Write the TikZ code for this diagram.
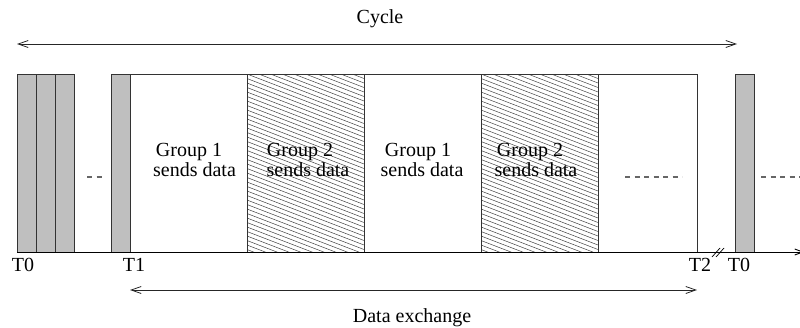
\documentclass[tikz,border=0pt]{standalone}
\usepackage{fontspec}
\setmainfont{Liberation Serif}
\usetikzlibrary{arrows.meta}
\begin{document}
\begin{tikzpicture}[x=1pt,y=-1pt,
  txt/.style={font=\fontsize{20}{20}\selectfont, inner sep=0pt, anchor=base},
  grp/.style={font=\fontsize{20}{14.5}\selectfont, inner sep=0pt, align=center, anchor=center},
  slot/.style={draw=black!80, line width=0.8pt},
  grayslot/.style={slot, fill=black!25},
  hatchline/.style={draw=black!75, line width=0.5pt},
  dots/.style={draw=black!60, line width=1.2pt, dash pattern=on 5pt off 4.5pt},
  axis/.style={draw=black, line width=0.9pt},
  span/.style={draw=black!85, line width=0.8pt, {Straight Barb[length=10pt,width=7pt]}-{Straight Barb[length=10pt,width=7pt]}}
]
\useasboundingbox (0,0) rectangle (800,327);
\clip (0,0) rectangle (800,327);

% gray slots
\draw[grayslot] (17,74) rectangle (36,252);
\draw[grayslot] (36,74) rectangle (55,252);
\draw[grayslot] (55,74) rectangle (74,252);
\draw[grayslot] (111,74) rectangle (130,252);
\draw[grayslot] (735,74) rectangle (754,252);

% white slots
\draw[slot] (130,74) rectangle (247,252);
\draw[slot] (364,74) rectangle (481,252);
\draw[slot] (598,74) rectangle (697,252);

% hatched slots
\foreach \xa/\xb in {247/364, 481/598}{
  \begin{scope}
    \clip (\xa,74) rectangle (\xb,252);
    \foreach \i in {-12,...,42}{
      \draw[hatchline] (\xa,74+\i*4.5) -- (\xb,74+\i*4.5+45);
    }
  \end{scope}
  \draw[slot] (\xa,74) rectangle (\xb,252);
}

% dashes
\coordinate (d1a) at (87,177); \coordinate (d1b) at (106,177);
\coordinate (d2a) at (625,177); \coordinate (d2b) at (682,177);
\coordinate (d3a) at (761,177); \coordinate (d3b) at (800,177);
\draw[dots] (d1a) -- (d1b);
\draw[dots] (d2a) -- (d2b);
\draw[dots] (d3a) -- (d3b);

% axis
\coordinate (ax0) at (17,252);
\coordinate (ax1) at (804,252);
\draw[axis, -{Straight Barb[length=8pt,width=6pt]}] (ax0) -- (ax1);
\coordinate (s1a) at (712,257); \coordinate (s1b) at (720,248);
\coordinate (s2a) at (716,257); \coordinate (s2b) at (724,248);
\draw[line width=0.7pt] (s1a) -- (s1b);
\draw[line width=0.7pt] (s2a) -- (s2b);

% spans
\coordinate (c0) at (17,44); \coordinate (c1) at (737,44);
\draw[span] (c0) -- (c1);
\coordinate (e0) at (130,290); \coordinate (e1) at (697,290);
\draw[span] (e0) -- (e1);

% labels
\node[txt] (cyc) at (380,23) {Cycle};
\node[txt] (dex) at (412,322) {Data exchange};
\node[txt] (t0a) at (23,271) {T0};
\node[txt] (t1) at (134,271) {T1};
\node[txt] (t2) at (700,271) {T2};
\node[txt] (t0b) at (739,271) {T0};

\node[grp] (g1) at (194.5,160) {Group 1\hspace*{11pt}\\sends data};
\node[grp] (g2) at (308,160) {Group 2\hspace*{16pt}\\sends data};
\node[grp] (g3) at (422,160) {Group 1\hspace*{8pt}\\sends data};
\node[grp] (g4) at (536,160) {Group 2\hspace*{12pt}\\sends data};
\end{tikzpicture}
\end{document}
